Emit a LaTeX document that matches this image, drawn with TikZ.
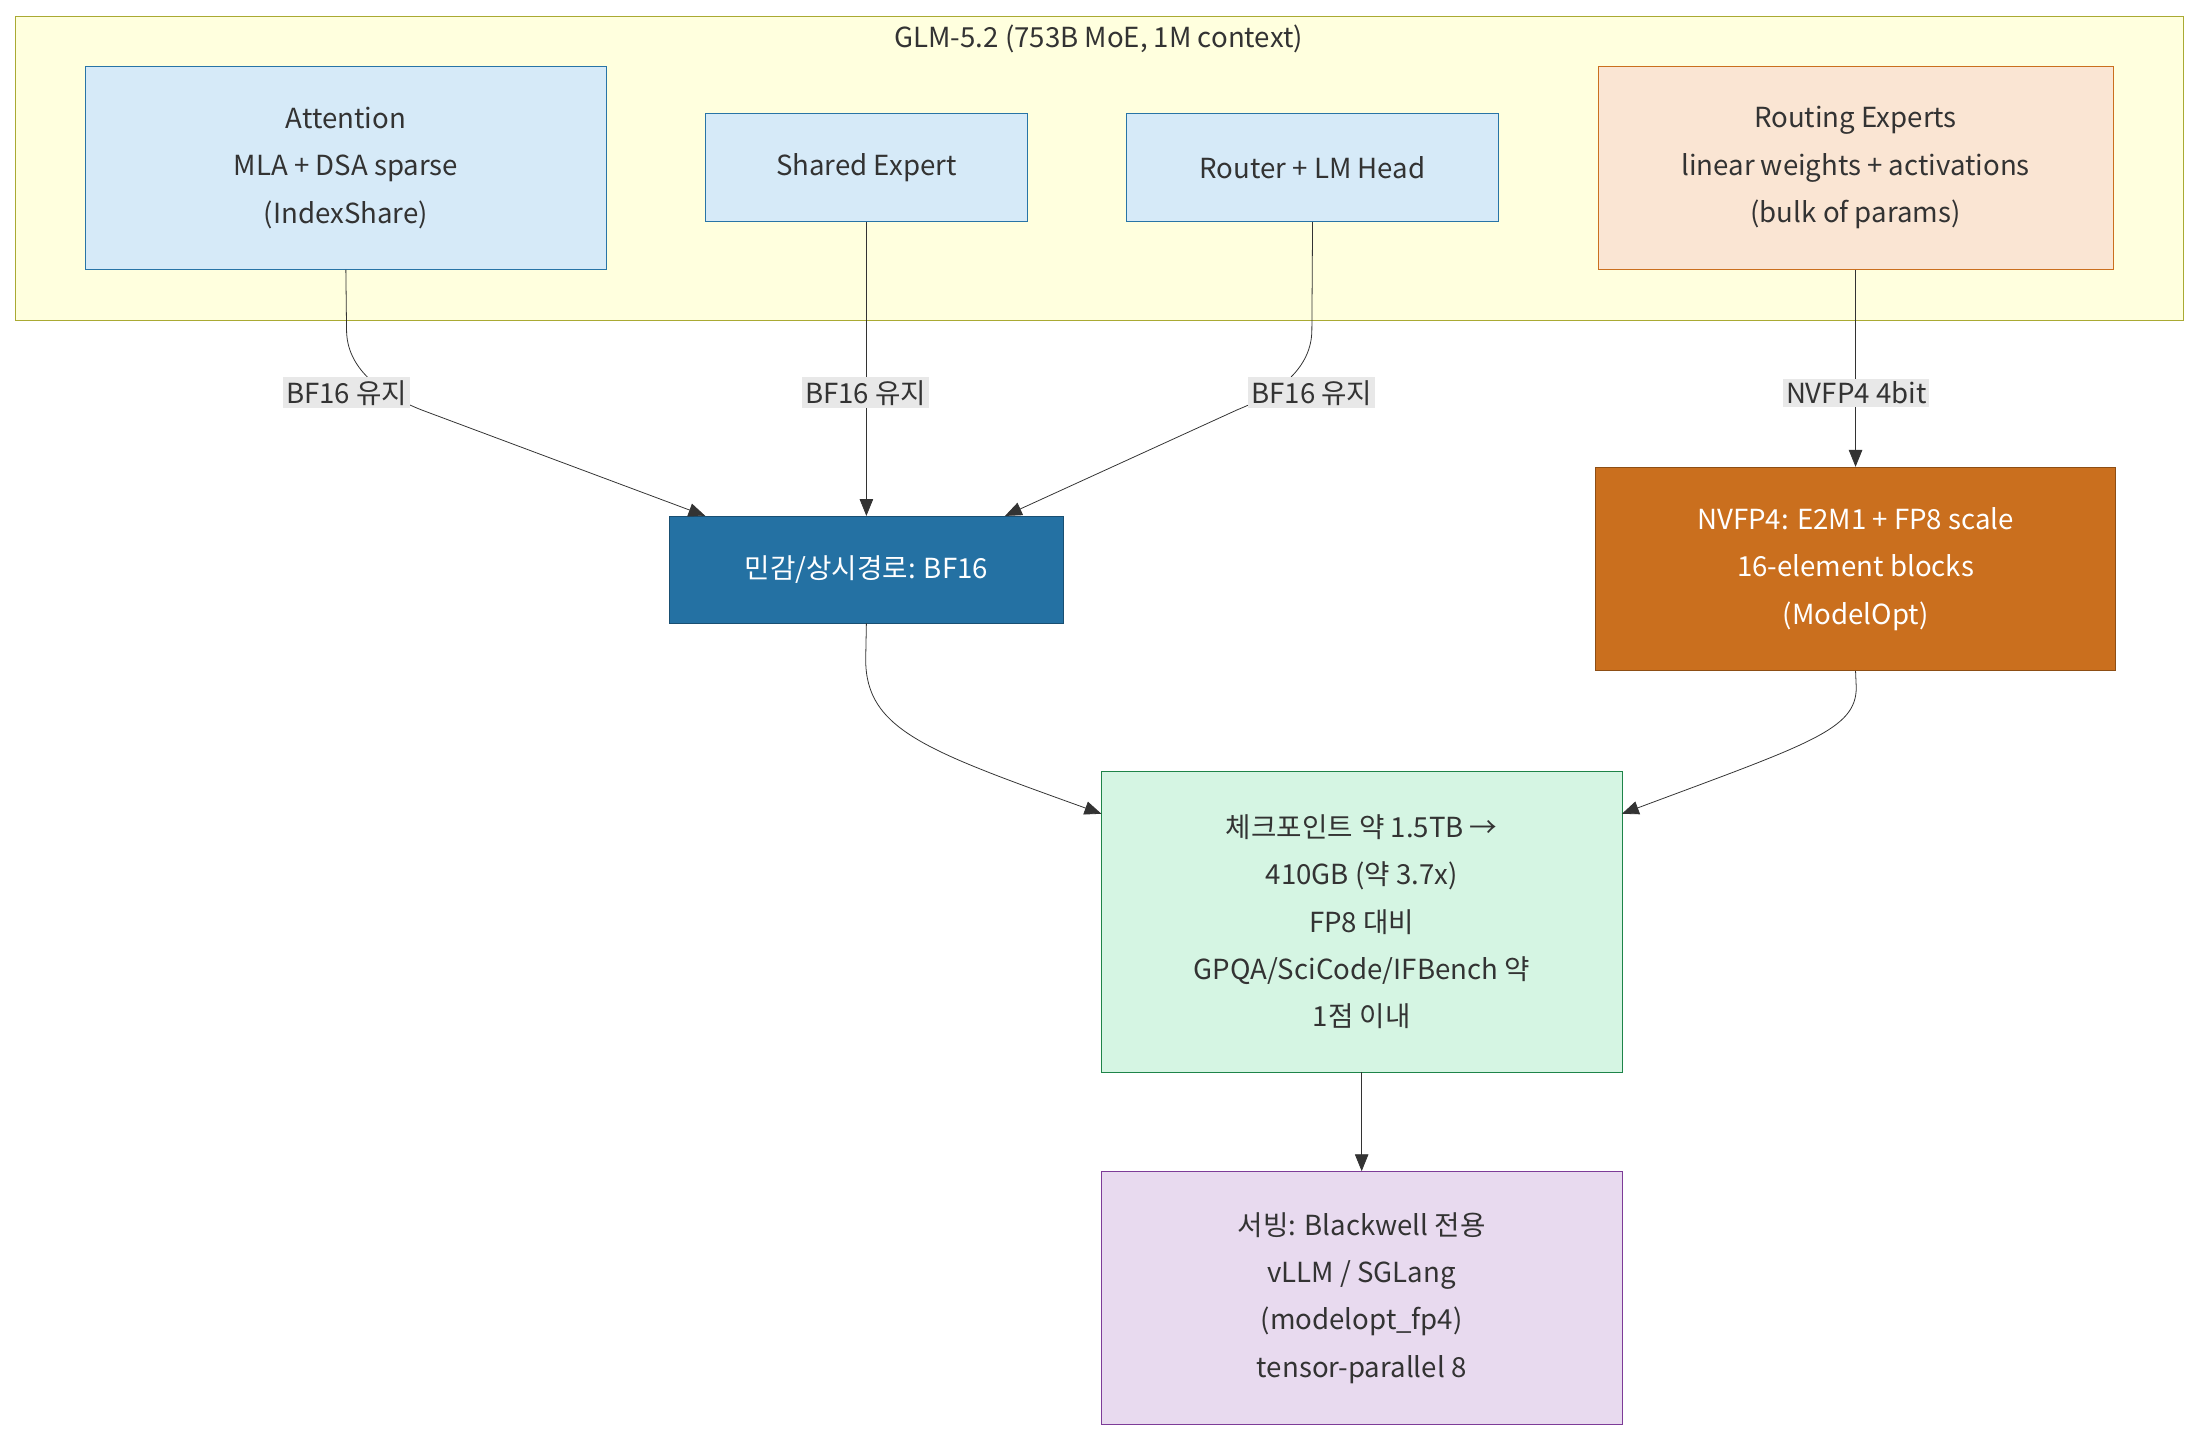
\documentclass[tikz,border=0pt]{standalone}
\usepackage{fontspec}
\setmainfont{Noto Sans CJK KR}
\usetikzlibrary{arrows.meta}
\definecolor{grpfill}{HTML}{FFFFDE}
\definecolor{grpline}{HTML}{AAAA33}
\definecolor{bluefill}{HTML}{D6EAF8}
\definecolor{blueline}{HTML}{2874A6}
\definecolor{orfill}{HTML}{FAE5D3}
\definecolor{orline}{HTML}{CA6F1E}
\definecolor{darkblue}{HTML}{2471A3}
\definecolor{grfill}{HTML}{D5F5E3}
\definecolor{grline}{HTML}{1E8449}
\definecolor{pufill}{HTML}{E8DAEF}
\definecolor{puline}{HTML}{7D3C98}
\definecolor{txt}{HTML}{333333}
\begin{document}
\begin{tikzpicture}[x=0.025cm, y=-0.025cm,
                font=\fontsize{14}{24}\selectfont, text=txt,
                box/.style = {draw, align=center, inner sep=0pt},
                lbl/.style = {fill=black!9, inner sep=1.5pt, font=\fontsize{14}{16}\selectfont},
                arr/.style = {draw=txt, -{Triangle[length=3mm,width=2.4mm]}},
                con/.style = {draw=txt},
            ]
            \useasboundingbox (0,0) rectangle (1568,1026);
            \node (grp) [draw=grpline, fill=grpfill, minimum width=1545*0.025cm, minimum height=216*0.025cm] at (783.5,120){};
            \node (title) at (783,28) {GLM-5.2 (753B MoE, 1M context)};

            \node (att) [box, draw=blueline, fill=bluefill, minimum width=371*0.025cm, minimum height=145*0.025cm] at (246.5,119.5) {Attention\\MLA + DSA sparse\\(IndexShare)};
            \node (shared) [box, draw=blueline, fill=bluefill, minimum width=229*0.025cm, minimum height=77*0.025cm] at (617.5,119.5) {Shared Expert};
            \node (router) [box, draw=blueline, fill=bluefill, minimum width=265*0.025cm, minimum height=77*0.025cm] at (935.5,119.5) {Router + LM Head};
            \node (route) [box, draw=orline, fill=orfill, minimum width=367*0.025cm, minimum height=145*0.025cm] at (1322.5,119.5) {Routing Experts\\linear weights + activations\\(bulk of params)};

            \node (bf) [box, draw=darkblue!70!black, fill=darkblue, text=white, minimum width=281*0.025cm, minimum height=76*0.025cm] at (617.5,406) {민감/상시경로: BF16};
            \node (nv) [box, draw=orline!70!black, fill=orline, text=white, minimum width=371*0.025cm, minimum height=145*0.025cm] at (1322.5,405.5) {NVFP4: E2M1 + FP8 scale\\16-element blocks\\(ModelOpt)};
            \node (ckpt) [box, draw=grline, fill=grfill, minimum width=371*0.025cm, minimum height=214*0.025cm] at (970.5,657) {체크포인트 약 1.5TB →\\410GB (약 3.7x)\\FP8 대비\\GPQA/SciCode/IFBench 약\\1점 이내};
            \node (serve) [box, draw=puline, fill=pufill, minimum width=371*0.025cm, minimum height=180*0.025cm] at (970.5,925) {서빙: Blackwell 전용\\vLLM / SGLang\\(modelopt\_fp4)\\tensor-parallel 8};

            \path[arr] (att.south) -- (247,235) .. controls (247,262) and (270,280) .. (300,292) -- ([xshift=0.65cm]bf.north west);
            \path[arr] (shared) -- (bf);
            \path[arr] (router.south) -- (935,235) .. controls (935,262) and (912,280) .. (882,292) -- ([xshift=-1.05cm]bf.north east);
            \path[arr] (route) -- (nv);

            \node (l1) [lbl] at (247,280) {BF16 유지};
            \node (l2) [lbl] at (617,280) {BF16 유지};
            \node (l3) [lbl] at (935,280) {BF16 유지};
            \node (l4) [lbl] at (1323,280) {NVFP4 4bit};

            \path[arr] (bf.south) -- (617,470) .. controls (617,520) and (660,535) .. (785,580);
            \path[arr] (nv.south) -- (1323,490) .. controls (1323,520) and (1290,530) .. (1156,580);
            \path[arr] (ckpt) -- (serve);
        \end{tikzpicture}
\end{document}
